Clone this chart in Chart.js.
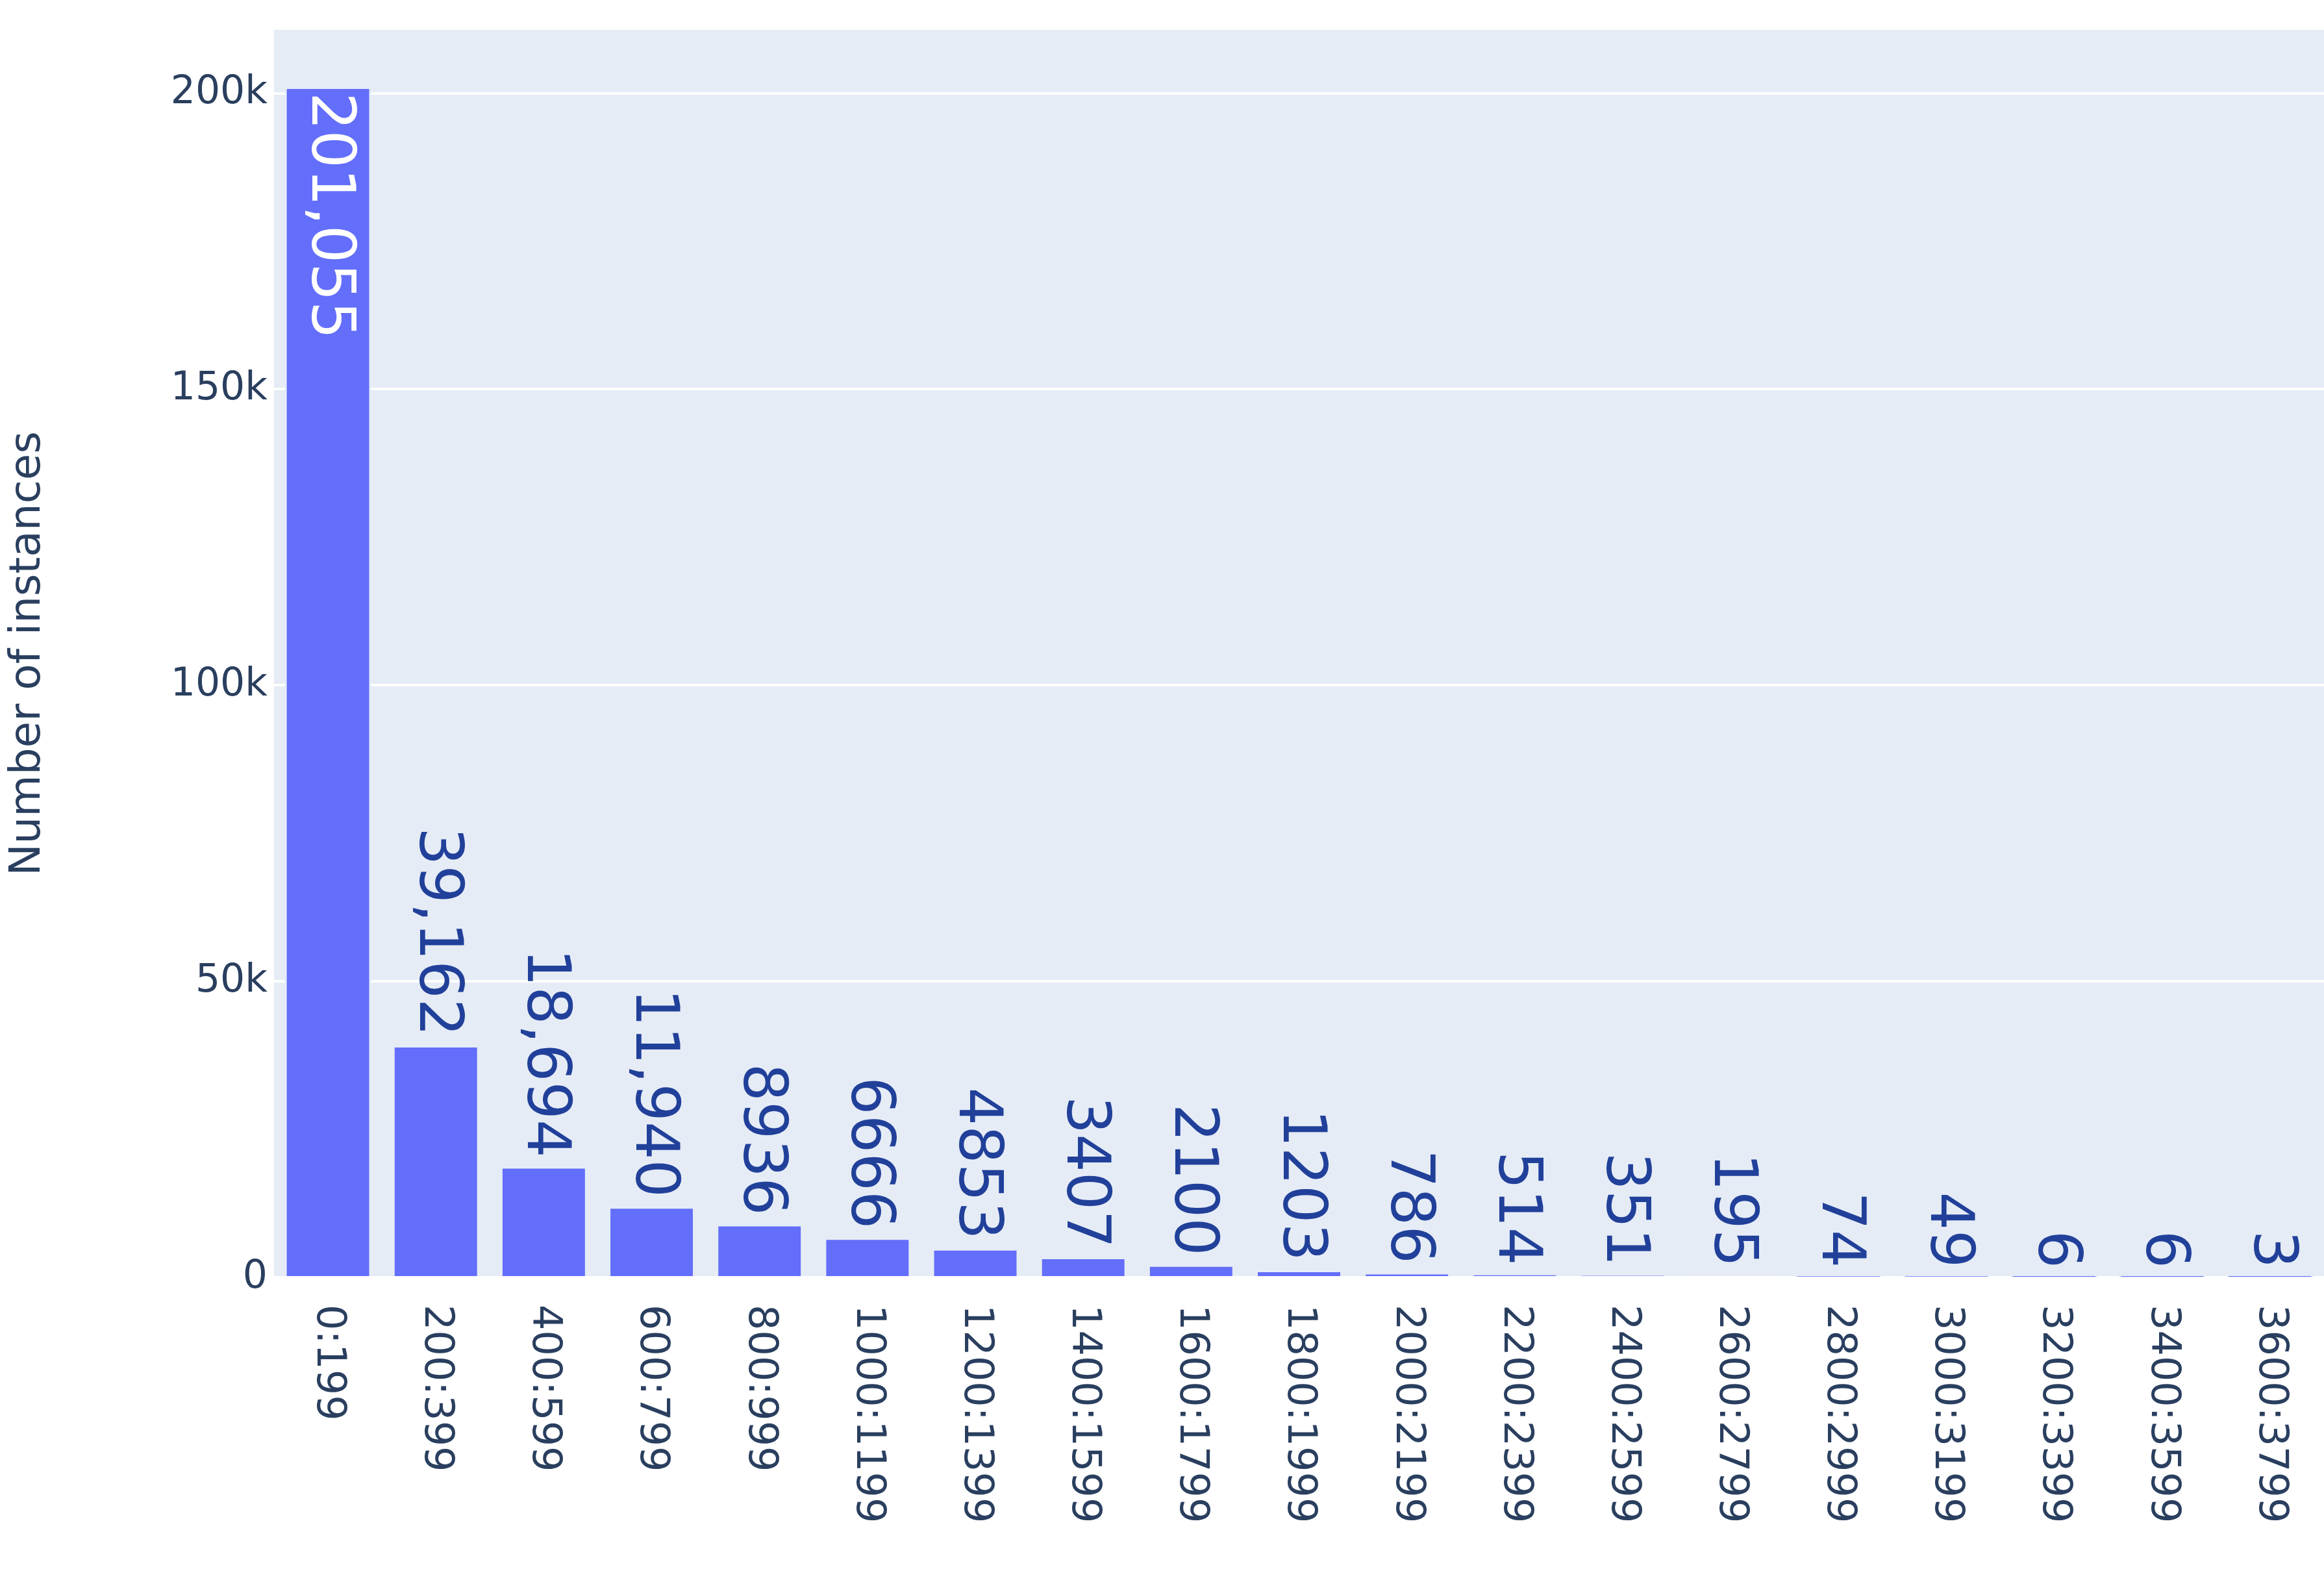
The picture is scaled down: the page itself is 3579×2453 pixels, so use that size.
<!DOCTYPE html>
<html><head><meta charset="utf-8">
<script src="https://cdn.jsdelivr.net/npm/chart.js@4"></script>
<style>html,body{margin:0;padding:0;background:#fff}#w{width:3579px;height:2453px}</style>
</head><body><div id="w"><canvas id="c"></canvas></div>
<script>
const categories = ["0:199","200:399","400:599","600:799","800:999","1000:1199","1200:1399","1400:1599","1600:1799","1800:1999","2000:2199","2200:2399","2400:2599","2600:2799","2800:2999","3000:3199","3200:3399","3400:3599","3600:3799"];
const counts = [201055,39162,18694,11940,8936,6666,4853,3407,2100,1203,786,514,351,195,74,49,6,6,3];
const yTicks = [0,50000,100000,150000,200000];
const FONT = "'DejaVu Sans', sans-serif";
const fmt = v => v >= 10000 ? v.toLocaleString('en-US') : String(v);

const bgPlugin = {
  id: 'bg',
  beforeDraw(chart) {
    const {ctx, chartArea: a} = chart;
    ctx.save(); ctx.fillStyle = '#E5ECF6';
    ctx.fillRect(a.left, a.top, a.right - a.left, a.bottom - a.top);
    ctx.restore();
  }
};
const labelPlugin = {
  id: 'labels',
  afterDatasetsDraw(chart) {
    const ctx = chart.ctx;
    const meta = chart.getDatasetMeta(0);
    const a = chart.chartArea;
    ctx.save();
    meta.data.forEach((bar, i) => {
      const v = counts[i];
      ctx.save();
      ctx.font = "92px " + FONT;
      ctx.textBaseline = 'middle';
      if (i === 0) {
        ctx.translate(bar.x, bar.y + 8);
        ctx.rotate(Math.PI / 2);
        ctx.textAlign = 'left';
        ctx.fillStyle = '#ffffff';
      } else {
        ctx.translate(bar.x, bar.y - 14);
        ctx.rotate(Math.PI / 2);
        ctx.textAlign = 'right';
        ctx.fillStyle = '#21409a';
      }
      ctx.fillText(fmt(v), 0, 0);
      ctx.restore();
      ctx.save();
      ctx.font = "62px " + FONT;
      ctx.fillStyle = '#2a3f5f';
      ctx.textBaseline = 'middle';
      ctx.textAlign = 'left';
      ctx.translate(bar.x, a.bottom + 42);
      ctx.rotate(Math.PI / 2);
      ctx.fillText(categories[i], 0, 0);
      ctx.restore();
    });
    ctx.restore();
  }
};

new Chart(document.getElementById('c'), {
  type: 'bar',
  data: { labels: categories, datasets: [{ data: counts, backgroundColor: '#636EFA', borderColor: '#E5ECF6', borderWidth: 3, categoryPercentage: 1, barPercentage: 0.8 }] },
  options: {
    responsive: true, maintainAspectRatio: false, animation: false,
    layout: { padding: { top: 46, bottom: 478, left: 0, right: 0 } },
    plugins: { legend: { display: false }, tooltip: { enabled: false } },
    scales: {
      x: { ticks: { display: false }, grid: { display: false }, border: { display: false } },
      y: {
        min: 0, max: 210700,
        afterBuildTicks(s) { s.ticks = yTicks.map(v => ({ value: v })); },
        afterFit(s) { s.width = 422; },
        ticks: { font: { family: FONT, size: 60 }, color: '#2a3f5f', padding: 10,
          callback: v => v === 0 ? '0' : (v / 1000) + 'k' },
        grid: { color: '#ffffff', lineWidth: 4, drawTicks: false },
        border: { display: false },
        title: { display: true, text: 'Number of instances', color: '#2a3f5f', font: { family: FONT, size: 66 }, padding: { bottom: 60 } }
      }
    }
  },
  plugins: [bgPlugin, labelPlugin]
});
</script></body></html>
